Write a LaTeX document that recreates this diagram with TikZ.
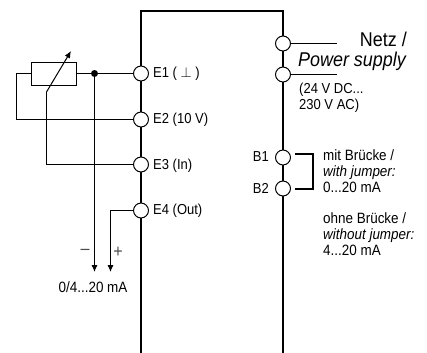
\documentclass[tikz,border=0pt]{standalone}
\usepackage{fontspec}
\setmainfont[FakeStretch=0.9]{Liberation Sans}
\usetikzlibrary{arrows.meta}
\tikzset{
  terminal/.style={circle,draw,fill=white,line width=1pt,minimum size=15pt,inner sep=0pt},
  wire/.style={line width=1pt},
  rail/.style={line width=2.2pt},
  tip/.style={-{Latex[length=7pt,width=6pt]}},
  label/.style={inner sep=0pt,anchor=west,font=\fontsize{14.5}{16}\selectfont,align=left},
}
\begin{document}
\begin{tikzpicture}
    [x=1bp,y=-1bp]
    \useasboundingbox (0,0) rectangle (427,353);
    % rails
    \coordinate (railleft) at (141,353);
    \coordinate (corner1) at (141,11);
    \coordinate (corner2) at (283,11);
    \coordinate (railright) at (283,353);
    \draw[rail] (railleft) -- (corner1) -- (corner2) -- (railright);
    % terminals
    \node[terminal] (e1) at (141,73.5) {};
    \node[terminal] (e2) at (141,119.5) {};
    \node[terminal] (e3) at (141,164.5) {};
    \node[terminal] (e4) at (141,210.5) {};
    \node[terminal] (l1) at (283,43.5) {};
    \node[terminal] (l2) at (283,74.5) {};
    \node[terminal] (b1) at (283,157.5) {};
    \node[terminal] (b2) at (283,188.5) {};
    \node[label] (e1text) at (153,74) {E1 ( $\perp$ )};
    \node[label] (e2text) at (153,119.5) {E2 (10 V)};
    \node[label] (e3text) at (153,165.5) {E3 (In)};
    \node[label] (e4text) at (153,211) {E4 (Out)};
    \node[label,anchor=east] (b1text) at (269,157) {B1};
    \node[label,anchor=east] (b2text) at (269,188) {B2};
    % potentiometer
    \node[draw,wire,minimum width=45bp,minimum height=23bp,inner sep=0pt] (poti) at (53.5,73.5) {};
    \node[circle,fill=black,inner sep=0pt,minimum size=7bp] (dot) at (94.5,73.5) {};
    \coordinate (wiper) at (46.5,92);
    \coordinate (wipertip) at (71,51);
    \coordinate (loop1) at (16.5,73.5);
    \coordinate (loop2) at (16.5,119.5);
    \coordinate (wiper2) at (46.5,164.5);
    \draw[wire] (poti) -- (dot) -- (e1);
    \draw[wire] (poti.west) -- (loop1) -- (loop2) -- (e2);
    \draw[wire,tip] (wiper) -- (wipertip);
    \draw[wire] (wiper) -- (wiper2) -- (e3);
    % output
    \coordinate (minus) at (94.5,272);
    \coordinate (plus1) at (110.5,210.5);
    \coordinate (plus2) at (110.5,272);
    \draw[wire,tip] (dot) -- (minus);
    \draw[wire,tip] (e4) -- (plus1) -- (plus2);
    \node[label,anchor=center,font=\fontsize{18}{16}\selectfont] (minustext) at (85,252) {\textcolor{black!70}{–}};
    \node[label,anchor=center,font=\fontsize{18}{16}\selectfont] (plustext) at (118,252) {\textcolor{black!70}{+}};
    \node[label,anchor=center,font=\fontsize{15}{16}\selectfont] (ma) at (93,287) {0/4...20 mA};
    % power
    \coordinate (l1end) at (337,43.5);
    \coordinate (l2end) at (337,74.5);
    \draw[wire] (l1) -- (l1end);
    \draw[wire] (l2) -- (l2end);
    \node[inner sep=0pt,anchor=east,font=\fontsize{20}{16}\selectfont] (netz) at (407,39) {Netz /};
    \node[inner sep=0pt,anchor=east,font=\fontsize{20}{16}\selectfont\itshape] (supply) at (406,61) {Power supply};
    \node[label] (volt) at (299,98) {(24 V DC...\\230 V AC)};
    % jumper
    \coordinate (j1) at (295,154);
    \coordinate (j2) at (313,154);
    \coordinate (j3) at (313,189);
    \coordinate (j4) at (295,189);
    \draw[rail] (j1) -- (j2) -- (j3) -- (j4);
    \node[label,font=\fontsize{15}{16}\selectfont] (with) at (323,171) {mit Brücke /\\\textit{with jumper:}\\0...20 mA};
    \node[label,font=\fontsize{15}{16}\selectfont] (without) at (323,234) {ohne Brücke /\\\textit{without jumper:}\\4...20 mA};
\end{tikzpicture}
\end{document}
